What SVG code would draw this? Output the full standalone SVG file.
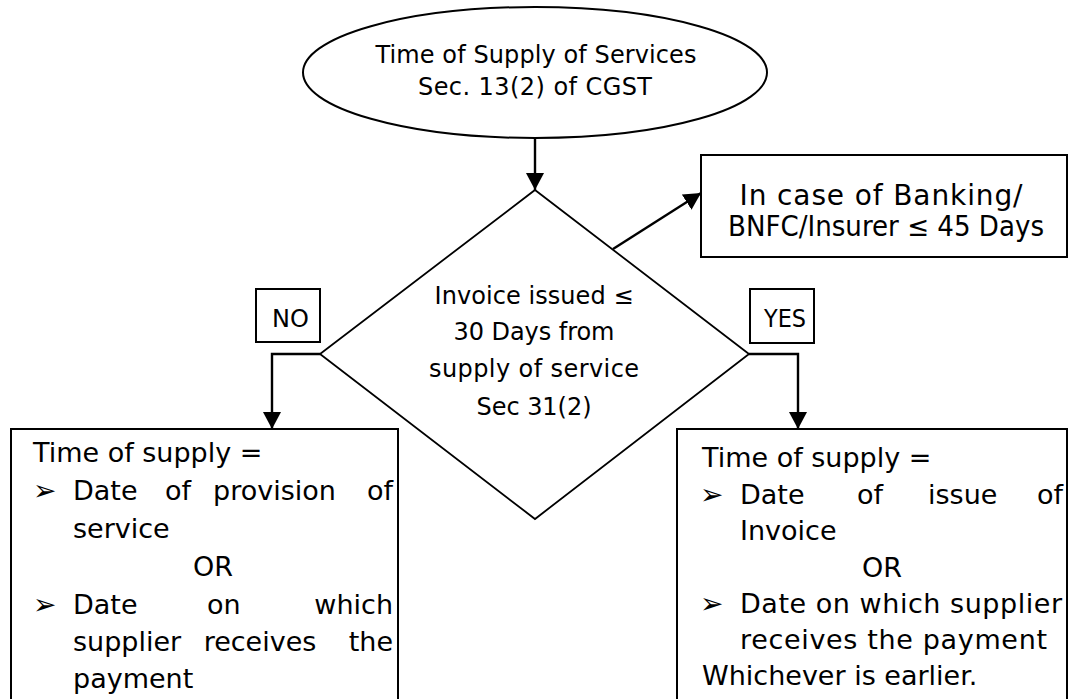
<svg xmlns="http://www.w3.org/2000/svg" width="1069" height="699" viewBox="0 0 1069 699">
<defs>
<style>
.shape{fill:#fff;stroke:#000;stroke-width:2}
.dia{fill:#fff;stroke:#000;stroke-width:1.8}
.conn{fill:none;stroke:#000;stroke-width:2.4}
text{font-family:"DejaVu Sans","Liberation Sans",sans-serif;fill:#000}
.t24{font-size:24px}
.t28{font-size:28px}
.t27{font-size:27px}
.mid{text-anchor:middle}
.end{text-anchor:end}
.bul{font-size:28px}
</style>
<marker id="ah" markerUnits="userSpaceOnUse" markerWidth="18" markerHeight="18" viewBox="0 0 18 18" refX="17" refY="9" orient="auto">
<path d="M0,0 L17,9 L0,18 Z" fill="#000"/>
</marker>
</defs>
<rect width="1069" height="699" fill="#fff"/>

<g id="connectors">
<line class="conn" x1="535" y1="138" x2="535" y2="190" marker-end="url(#ah)"/>
<line class="conn" x1="613" y1="249" x2="701" y2="193" marker-end="url(#ah)"/>
<polyline class="conn" points="320,354 272,354 272,429" marker-end="url(#ah)"/>
<polyline class="conn" points="749,354 798,354 798,429" marker-end="url(#ah)"/>
</g>

<g id="start">
<ellipse class="shape" cx="535" cy="72.5" rx="232" ry="65.5"/>
<text class="t24 mid" x="536" y="63" textLength="321" lengthAdjust="spacing">Time of Supply of Services</text>
<text class="t24 mid" x="535" y="95" textLength="234" lengthAdjust="spacing">Sec. 13(2) of CGST</text>
</g>

<g id="decision">
<polygon class="dia" points="535,190 749,354 535,519 320,354"/>
<text class="t24 mid" x="534" y="304" textLength="199" lengthAdjust="spacing">Invoice issued ≤</text>
<text class="t24 mid" x="534" y="340" textLength="161" lengthAdjust="spacing">30 Days from</text>
<text class="t24 mid" x="534" y="377" textLength="210" lengthAdjust="spacing">supply of service</text>
<text class="t24 mid" x="534" y="415" textLength="115" lengthAdjust="spacing">Sec 31(2)</text>
</g>

<g id="banking">
<rect class="shape" x="701" y="155" width="366" height="102"/>
<text class="t28 mid" x="881" y="205" textLength="283" lengthAdjust="spacing">In case of Banking/</text>
<text class="t28 mid" x="886" y="236" textLength="316" lengthAdjust="spacingAndGlyphs">BNFC/Insurer ≤ 45 Days</text>
</g>

<g id="no-label">
<rect class="shape" x="256" y="289" width="64" height="53"/>
<text class="t24" x="272" y="327">NO</text>
</g>

<g id="yes-label">
<rect class="shape" x="750" y="289" width="64" height="54"/>
<text class="t24" x="764" y="327" textLength="42" lengthAdjust="spacingAndGlyphs">YES</text>
</g>

<g id="no-result">
<rect class="shape" x="11" y="429" width="387" height="290"/>
<text class="t27" x="33" y="462">Time of supply =</text>
<text class="bul" x="33" y="500">➢</text>
<text class="t27" x="73" y="500">Date</text>
<text class="t27" x="165" y="500">of</text>
<text class="t27" x="213" y="500">provision</text>
<text class="t27 end" x="393" y="500">of</text>
<text class="t27" x="73" y="538">service</text>
<text class="t27 mid" x="213" y="576">OR</text>
<text class="bul" x="33" y="614">➢</text>
<text class="t27" x="73" y="614">Date</text>
<text class="t27" x="207" y="614">on</text>
<text class="t27 end" x="393" y="614">which</text>
<text class="t27" x="73" y="651">supplier</text>
<text class="t27 mid" x="260" y="651">receives</text>
<text class="t27 end" x="393" y="651">the</text>
<text class="t27" x="73" y="688">payment</text>
</g>

<g id="yes-result">
<rect class="shape" x="677" y="429" width="390" height="290"/>
<text class="t27" x="702" y="467">Time of supply =</text>
<text class="bul" x="700" y="504">➢</text>
<text class="t27" x="740" y="504">Date</text>
<text class="t27" x="857" y="504">of</text>
<text class="t27" x="928" y="504">issue</text>
<text class="t27 end" x="1063" y="504">of</text>
<text class="t27" x="740" y="540">Invoice</text>
<text class="t27 mid" x="882" y="577">OR</text>
<text class="bul" x="700" y="613">➢</text>
<text class="t27" x="740" y="613" textLength="322" lengthAdjust="spacing">Date on which supplier</text>
<text class="t27" x="740" y="649" textLength="307" lengthAdjust="spacing">receives the payment</text>
<text class="t27" x="702" y="685">Whichever is earlier.</text>
</g>
</svg>
